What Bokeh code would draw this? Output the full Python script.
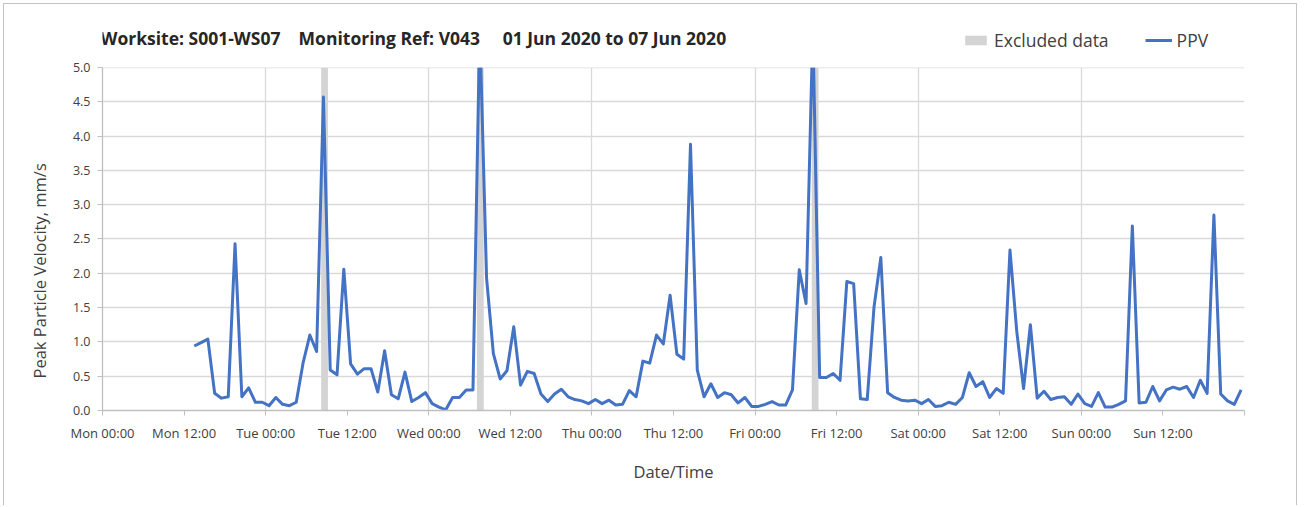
import pandas as pd
from bokeh.plotting import figure
from bokeh.models import (FixedTicker, Legend, LegendItem, Title, Label,
                          BoxAnnotation, ColumnDataSource)
from bokeh.embed import file_html
from bokeh.resources import INLINE

# ---------------- data ----------------
NB = "\u00a0"
title_text = ("Worksite: S001-WS07 " + NB * 3 + "Monitoring Ref: V043 " + NB * 4
              + "01 Jun 2020 to 07 Jun 2020")
y_title = "Peak Particle Velocity, mm/s"
x_title = "Date/Time"
first_reading = "2020-06-01 13:30"          # hourly PPV readings start here
ppv = [
    0.94, 0.99, 1.04, 0.25, 0.18, 0.20, 2.43, 0.20, 0.33, 0.12, 0.12,
    0.07, 0.19, 0.09, 0.07, 0.12, 0.69, 1.10, 0.86, 4.57, 0.59, 0.52,
    2.06, 0.68, 0.53, 0.61, 0.61, 0.27, 0.87, 0.23, 0.17, 0.56, 0.13,
    0.19, 0.26, 0.10, 0.05, 0.01, 0.19, 0.19, 0.30, 0.30, 5.60, 1.93,
    0.83, 0.46, 0.58, 1.22, 0.37, 0.57, 0.54, 0.24, 0.13, 0.24, 0.31,
    0.20, 0.16, 0.14, 0.10, 0.16, 0.10, 0.15, 0.08, 0.09, 0.29, 0.20,
    0.72, 0.69, 1.10, 0.97, 1.68, 0.82, 0.75, 3.88, 0.59, 0.20, 0.39,
    0.19, 0.26, 0.23, 0.11, 0.19, 0.06, 0.06, 0.09, 0.13, 0.08, 0.08,
    0.30, 2.05, 1.56, 5.60, 0.48, 0.48, 0.54, 0.44, 1.88, 1.85, 0.17,
    0.16, 1.51, 2.23, 0.26, 0.19, 0.15, 0.14, 0.15, 0.10, 0.16, 0.06,
    0.07, 0.12, 0.09, 0.19, 0.55, 0.35, 0.42, 0.19, 0.32, 0.25, 2.34,
    1.15, 0.32, 1.25, 0.18, 0.28, 0.16, 0.19, 0.20, 0.09, 0.24, 0.10,
    0.06, 0.26, 0.05, 0.05, 0.09, 0.14, 2.69, 0.11, 0.12, 0.35, 0.14,
    0.30, 0.34, 0.31, 0.35, 0.19, 0.44, 0.25, 2.85, 0.24, 0.14, 0.09,
    0.30,
]
excluded_start = ["2020-06-02 08:10", "2020-06-03 07:05", "2020-06-05 08:20"]
excluded_end = ["2020-06-02 09:10", "2020-06-03 08:05", "2020-06-05 09:20"]
x_start, x_end = "2020-06-01 00:00", "2020-06-08 00:00"
y_max = 5.0
y_ticks = [0.0, 0.5, 1.0, 1.5, 2.0, 2.5, 3.0, 3.5, 4.0, 4.5, 5.0]
x_tick_labels = ["Mon 00:00", "Mon 12:00", "Tue 00:00", "Tue 12:00",
                 "Wed 00:00", "Wed 12:00", "Thu 00:00", "Thu 12:00",
                 "Fri 00:00", "Fri 12:00", "Sat 00:00", "Sat 12:00",
                 "Sun 00:00", "Sun 12:00", ""]

# ---------------- build ----------------
FONT = "Open Sans"
TXT = "#404040"
GRID = "#d9d9d9"
AX = "#bfbfbf"
EDGE = "#c4c4c4"
HEADROOM = 1.172   # extra room above the 5.0 line for title and legend

times = pd.date_range(first_reading, periods=len(ppv), freq="60min")
src = ColumnDataSource(dict(t=times, v=ppv))
exc = ColumnDataSource(dict(l=pd.to_datetime(excluded_start),
                            r=pd.to_datetime(excluded_end)))

def ms(ts):
    return pd.Timestamp(ts).value / 1e6

tick_ms = [t.value / 1e6 for t in pd.date_range(x_start, x_end, freq="12h")]
day_ms = [t.value / 1e6 for t in pd.date_range(x_start, x_end, freq="24h")]

grad = f"linear-gradient({EDGE},{EDGE})"
frame_css = {
    "background-color": "white",
    "background-image": ", ".join([grad] * 3),
    "background-size": "1px 100%, 1293px 1px, 1px 100%",
    "background-position": "3px 3px, 3px 3px, 1296px 3px",
    "background-repeat": "no-repeat",
}

p = figure(width=1300, height=505, x_axis_type="datetime",
           x_range=(ms(x_start), ms(x_end)), y_range=(0, y_max * HEADROOM),
           output_backend="svg", toolbar_location=None,
           min_border_left=102, min_border_right=56,
           min_border_top=8, min_border_bottom=95, styles=frame_css)
p.outline_line_color = None
p.background_fill_color = "white"
p.border_fill_color = None

bands = p.quad(left="l", right="r", bottom=0, top=y_max, source=exc,
               fill_color="#d4d4d4", line_color=None)
line = p.line("t", "v", source=src, line_color="#4472C4", line_width=3,
              line_join="round")

# everything above the 5.0 line is blank (clips the off-scale peaks)
p.add_layout(BoxAnnotation(bottom=y_max, fill_color="white", fill_alpha=1,
                           line_color=None))

# axes
p.xaxis.ticker = FixedTicker(ticks=tick_ms)
p.xaxis.major_label_overrides = {t: lab for t, lab in zip(tick_ms, x_tick_labels)}
p.yaxis.ticker = FixedTicker(ticks=y_ticks)
p.yaxis.major_label_overrides = {t: f"{t:.1f}" for t in y_ticks}
p.yaxis.bounds = (0, y_max)
p.xgrid.ticker = FixedTicker(ticks=day_ms)
p.ygrid.ticker = FixedTicker(ticks=y_ticks)
for g in (p.xgrid, p.ygrid):
    g.grid_line_color = GRID
    g.grid_line_width = 1.3

for ax in (p.xaxis, p.yaxis):
    ax.axis_line_color = AX
    ax.axis_line_width = 1.3
    ax.major_tick_line_color = AX
    ax.major_tick_out = 5
    ax.major_tick_in = 0
    ax.minor_tick_line_color = None
    ax.major_label_text_font = FONT
    ax.major_label_text_font_size = "12.5px"
    ax.major_label_text_color = TXT
    ax.axis_label_text_font = FONT
    ax.axis_label_text_font_style = "normal"
    ax.axis_label_text_color = TXT

p.xaxis.major_label_text_font_size = "13px"
p.xaxis.major_label_standoff = 8
p.xaxis.axis_label = x_title
p.xaxis.axis_label_text_font_size = "16.5px"
p.xaxis.axis_label_standoff = 15
p.yaxis.major_label_standoff = 7

# y-axis title, placed lower like the original
p.add_layout(Title(text=y_title, align="left", offset=32, standoff=37,
                   text_font=FONT, text_font_size="16.5px",
                   text_font_style="normal", text_color=TXT), "left")

# chart title
p.add_layout(Label(x=-2, y=373, x_units="screen", y_units="screen",
                   text=title_text, text_font=FONT, text_font_size="17.5px",
                   text_font_style="bold", text_color="#262626",
                   text_baseline="middle", text_align="left"))

legend = Legend(items=[LegendItem(label="Excluded data", renderers=[bands]),
                       LegendItem(label="PPV", renderers=[line])],
                orientation="horizontal", location=(860, 358),
                background_fill_alpha=0, border_line_color=None,
                label_text_font=FONT, label_text_font_size="17.5px",
                label_text_color=TXT, glyph_width=27, glyph_height=12,
                spacing=36, label_standoff=5, padding=0, margin=0)
p.add_layout(legend, "center")

open("out.html", "w").write(file_html(p, INLINE))
